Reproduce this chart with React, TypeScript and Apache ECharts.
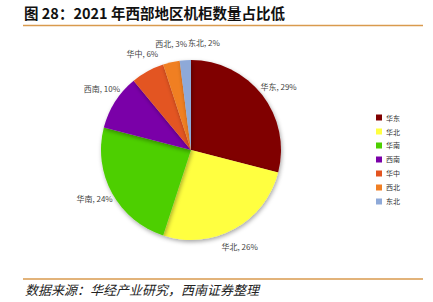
import React, { useEffect, useRef } from "react";
import * as echarts from "echarts";

const categories = ["华东", "华北", "华南", "西南", "华中", "西北", "东北"];
const values = [29, 26, 24, 10, 6, 3, 2];
const colors = ["#800000", "#FFFF40", "#4DCF00", "#7A00A8", "#E35420", "#F07F24", "#8EA9D8"];

const titleText = "图 28：2021 年西部地区机柜数量占比低";
const sourceText = "数据来源：华经产业研究，西南证券整理";

const CX = 191;
const CY = 150;
const LABEL_DIST = 108;
const LABEL_ROT = (2 * Math.PI) / 180;
const LABEL_FONT_SIZE = 8;

export default function App() {
  const ref = useRef<HTMLDivElement>(null);
  useEffect(() => {
    const chart = echarts.init(ref.current!, null, { renderer: "svg" });
    const font = "'Noto Sans CJK SC', 'Noto Sans', sans-serif";
    const total = values.reduce((s, v) => s + v, 0);
    const cum: number[] = [];
    values.reduce((s, v, i) => {
      cum[i] = s;
      return s + v;
    }, 0);

    const measure = (t: string) => {
      try {
        const el = new (echarts.graphic as any).Text({
          style: { text: t, fontSize: LABEL_FONT_SIZE, fontFamily: font },
        });
        const r = el.getBoundingRect();
        return { w: r.width, h: r.height };
      } catch (e) {
        return { w: t.length * 4.6, h: 10 };
      }
    };

    // place labels radially, then nudge sideways any that collide
    const placed: { x: number; y: number; w: number; h: number }[] = [];
    categories.forEach((c, i) => {
      const text = `${c}, ${values[i]}%`;
      const { w, h } = measure(text);
      const theta = ((cum[i] + values[i] / 2) / total) * 2 * Math.PI + LABEL_ROT;
      let x = CX + LABEL_DIST * Math.sin(theta);
      const y = CY - LABEL_DIST * Math.cos(theta);
      for (const q of placed) {
        const needX = (w + q.w) / 2;
        const needY = (h + q.h) / 2;
        if (Math.abs(x - q.x) < needX && Math.abs(y - q.y) < needY) {
          const sign = x >= q.x ? 1 : -1;
          x = q.x + sign * (needX + 1);
        }
      }
      placed.push({ x, y, w, h });
    });

    chart.setOption({
      animation: false,
      backgroundColor: "#ffffff",
      color: colors,
      legend: {
        orient: "vertical",
        left: 371,
        top: 109,
        itemWidth: 6,
        itemHeight: 6,
        itemGap: 7,
        icon: "rect",
        data: categories,
        textStyle: { fontSize: 7, color: "#333", fontFamily: font, padding: [0, 0, 0, -1] },
      },
      graphic: [
        {
          type: "text",
          left: 24,
          top: 5,
          style: { text: titleText, fill: "#111", font: `bold 14.5px ${font}` },
        },
        {
          type: "line",
          shape: { x1: 23, y1: 25.5, x2: 423, y2: 25.5 },
          style: { stroke: "#D99A4E", lineWidth: 1.5 },
        },
        {
          type: "line",
          shape: { x1: 23, y1: 279, x2: 423, y2: 279 },
          style: { stroke: "#D99A4E", lineWidth: 1.5 },
        },
        {
          type: "text",
          left: 25,
          top: 283,
          style: { text: sourceText, fill: "#222", font: `italic 13px ${font}` },
        },
      ],
      series: [
        {
          type: "pie",
          center: [CX, CY],
          radius: [0, 90],
          startAngle: 90,
          clockwise: true,
          avoidLabelOverlap: false,
          data: categories.map((c, i) => ({ name: c, value: values[i] })),
          itemStyle: {
            shadowBlur: 4,
            shadowOffsetY: 2,
            shadowOffsetX: 1,
            shadowColor: "rgba(0,0,0,0.35)",
          },
          label: {
            show: true,
            position: "outside",
            formatter: "{b}, {c}%",
            fontSize: LABEL_FONT_SIZE,
            color: "#444",
            fontFamily: font,
          },
          labelLine: { show: false, length: 10, length2: 0 },
          labelLayout: (p: any) => {
            const pos = placed[p.dataIndex];
            return {
              x: pos.x,
              y: pos.y,
              align: "center",
              verticalAlign: "middle",
              hideOverlap: false,
            };
          },
        },
      ],
    });
    return () => chart.dispose();
  }, []);
  return (
    <div
      ref={ref}
      style={{ position: "fixed", left: 0, top: 0, width: 433, height: 302 }}
    />
  );
}
